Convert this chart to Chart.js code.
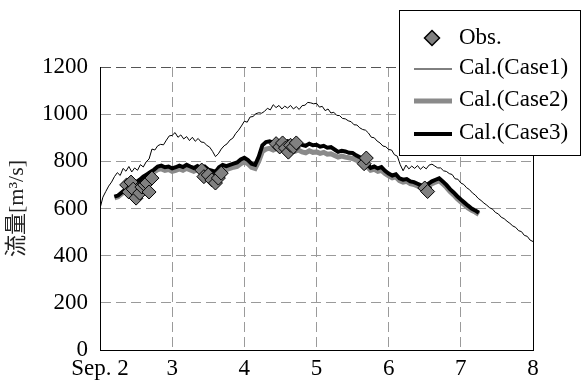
<!DOCTYPE html>
<html>
<head>
<meta charset="utf-8">
<script src="https://cdn.jsdelivr.net/npm/chart.js@4"></script>
<style>
  html, body { margin: 0; padding: 0; background: #fff; }
  #wrap { width: 583px; height: 380px; position: relative; }
</style>
</head>
<body>
<div id="wrap"><canvas id="flowChart"></canvas></div>
<script>
// Calculated discharge, Case1 (every 0.04 day from Sep. 2 00:00)
const case1Start = 2.0;
const case1Step = 0.04;
const case1Values = [
    600, 648, 672, 695, 712,
    735, 752, 740, 770, 758,
    778, 755, 772, 762, 786,
    776, 798, 810, 852, 848,
    866, 872, 870, 890, 908,
    910, 922, 902, 912, 895,
    905, 888, 902, 885, 897,
    882, 880, 868, 860, 842,
    820, 832, 852, 866, 874,
    890, 898, 918, 932, 950,
    970, 966, 988, 990, 1002,
    1006, 1004, 1012, 1025, 1018,
    1040, 1028, 1037, 1022, 1034,
    1026, 1037, 1022, 1032, 1020,
    1036, 1038, 1050, 1048, 1044,
    1046, 1030, 1033, 1015, 1022,
    1005, 1008, 995, 994, 982,
    980, 972, 968, 955, 954,
    942, 935, 932, 920, 902,
    900, 886, 878, 865, 862,
    850, 848, 828, 822, 786,
    760, 784, 768, 780, 770,
    782, 766, 778, 768, 784,
    788, 780, 772, 772, 760,
    757, 748, 744, 726, 724,
    708, 702, 688, 680, 666,
    657, 643, 634, 623, 614,
    603, 597, 583, 577, 563,
    557, 546, 537, 526, 520,
    506, 502, 486, 482, 466,
    460
];

// Case2 and Case3 (every 0.05 day from Sep. 2.20)
const caseStart = 2.2;
const caseStep = 0.05;
const case2Values = [
    645, 650, 662, 675, 685, 698, 705, 715, 728, 738,
    748, 756, 765, 768, 762, 765, 758, 762, 768, 762,
    770, 764, 758, 765, 758, 762, 750, 745, 740, 758,
    768, 765, 770, 775, 778, 790, 798, 790, 775, 770,
    800, 842, 852, 855, 848, 855, 852, 845, 852, 848,
    842, 848, 840, 836, 845, 838, 840, 834, 838, 830,
    832, 825, 818, 822, 818, 815, 812, 805, 800, 790,
    778, 762, 766, 758, 762, 748, 738, 730, 734, 718,
    712, 715, 705, 702, 695, 688, 682, 695, 705, 712,
    718, 705, 690, 672, 658, 642, 628, 615, 602, 592,
    585, 575
];
const case3Values = [
    650, 655, 668, 680, 690, 705, 712, 722, 735, 745,
    755, 765, 778, 782, 775, 778, 770, 775, 782, 776,
    785, 778, 772, 780, 772, 778, 765, 760, 755, 775,
    785, 780, 785, 790, 795, 808, 815, 805, 790, 785,
    820, 868, 882, 885, 878, 885, 882, 875, 885, 880,
    872, 880, 870, 866, 875, 868, 870, 862, 866, 858,
    860, 850, 840, 845, 842, 836, 835, 825, 818, 805,
    790, 772, 778, 770, 776, 760, 748, 740, 745, 728,
    722, 725, 715, 712, 705, 698, 690, 705, 715, 722,
    728, 715, 700, 682, 668, 652, 638, 625, 612, 600,
    592, 582
];

// Observed discharge
const obsDays = [
    2.37, 2.40, 2.43, 2.46, 2.50, 2.55, 2.58, 2.62, 2.65, 2.68, 2.72,
    3.41, 3.44, 3.50, 3.55, 3.60, 3.64, 3.68,
    4.44, 4.49, 4.53, 4.57, 4.61, 4.64, 4.68, 4.72,
    5.66, 5.69,
    6.50, 6.54
];
const obsValues = [
    700, 670, 712, 682, 644, 665, 691, 700, 708, 670, 729,
    763, 735, 742, 721, 708, 729, 750,
    875, 861, 878, 856, 839, 868, 861, 878,
    790, 814,
    687, 672
];

const xTicks = [2, 3, 4, 5, 6, 7, 8];
const xTickLabels = ["Sep. 2", "3", "4", "5", "6", "7", "8"];

const serif = "'Liberation Serif', serif";

function series(start, step, values) {
    return values.map(function(v, i) {
        return { x: Math.round((start + i * step) * 1000) / 1000, y: v };
    });
}

const obsData = obsDays.map(function(d, i) { return { x: d, y: obsValues[i] }; });

Chart.defaults.font.family = serif;
Chart.defaults.font.size = 23;
Chart.defaults.color = "#000";

const datasets = [
    {
        label: "Obs.",
        data: obsData,
        showLine: false,
        pointStyle: "rectRot",
        pointRadius: 7,
        pointBackgroundColor: "#808080",
        pointBorderColor: "#000",
        pointBorderWidth: 1
    },
    {
        label: "Cal.(Case3)",
        data: series(caseStart, caseStep, case3Values),
        borderColor: "#000",
        borderWidth: 4,
        pointRadius: 0
    },
    {
        label: "Cal.(Case2)",
        data: series(caseStart, caseStep, case2Values),
        borderColor: "#8a8a8a",
        borderWidth: 5,
        pointRadius: 0
    },
    {
        label: "Cal.(Case1)",
        data: series(case1Start, case1Step, case1Values),
        borderColor: "#000",
        borderWidth: 1,
        pointRadius: 0
    }
];

// Frame line on the right side plus the boxed legend
const framePlugin = {
    id: "frameAndLegend",
    afterDraw: function(chart) {
        const ctx = chart.ctx;
        const area = chart.chartArea;
        ctx.save();
        ctx.strokeStyle = "#000";
        ctx.lineWidth = 1;
        ctx.beginPath();
        ctx.moveTo(Math.round(area.right) + 0.5, area.top);
        ctx.lineTo(Math.round(area.right) + 0.5, area.bottom);
        ctx.stroke();

        // legend box
        const bx = 399.5, by = 10.5, bw = 181, bh = 145;
        ctx.fillStyle = "#fff";
        ctx.fillRect(bx, by, bw, bh);
        ctx.strokeRect(bx, by, bw, bh);

        const order = [0, 3, 2, 1];
        const rowsY = [38, 68, 100, 133];
        ctx.font = "23px " + serif;
        ctx.textAlign = "left";
        ctx.textBaseline = "middle";
        order.forEach(function(di, r) {
            const ds = chart.data.datasets[di];
            const y = rowsY[r];
            if (ds.showLine === false) {
                ctx.beginPath();
                ctx.moveTo(432, y - 7.5);
                ctx.lineTo(439.5, y);
                ctx.lineTo(432, y + 7.5);
                ctx.lineTo(424.5, y);
                ctx.closePath();
                ctx.fillStyle = ds.pointBackgroundColor;
                ctx.fill();
                ctx.strokeStyle = ds.pointBorderColor;
                ctx.lineWidth = 1.5;
                ctx.stroke();
            } else {
                ctx.beginPath();
                ctx.strokeStyle = ds.borderColor;
                ctx.lineWidth = ds.borderWidth;
                ctx.moveTo(414, y + 1);
                ctx.lineTo(452, y + 1);
                ctx.stroke();
            }
            ctx.fillStyle = "#000";
            ctx.fillText(ds.label, 459, y);
        });
        ctx.restore();
    }
};

const ctx = document.getElementById("flowChart").getContext("2d");

new Chart(ctx, {
    type: "line",
    data: { datasets: datasets },
    options: {
        responsive: true,
        maintainAspectRatio: false,
        animation: false,
        layout: {
            padding: { top: 67, right: 50, left: 0, bottom: 0 }
        },
        elements: {
            line: { tension: 0 }
        },
        scales: {
            x: {
                type: "linear",
                min: 2,
                max: 8,
                afterFit: function(scale) { scale.height = 30; },
                afterBuildTicks: function(scale) {
                    scale.ticks = xTicks.map(function(v) { return { value: v }; });
                },
                ticks: {
                    padding: 5,
                    maxRotation: 0,
                    callback: function(value) {
                        const i = xTicks.indexOf(value);
                        return i >= 0 ? xTickLabels[i] : "";
                    }
                },
                grid: {
                    color: "#9a9a9a",
                    drawTicks: false
                },
                border: {
                    color: "#000",
                    width: 1,
                    dash: [10, 5]
                }
            },
            y: {
                min: 0,
                max: 1200,
                afterFit: function(scale) { scale.width = 100; },
                ticks: {
                    stepSize: 200,
                    padding: 12,
                    callback: function(value) { return String(value); }
                },
                grid: {
                    color: function(c) {
                        return c.tick && c.tick.value === 1200 ? "#555" : "#9a9a9a";
                    },
                    drawTicks: false
                },
                border: {
                    color: "#000",
                    width: 1,
                    dash: [10, 5]
                },
                title: {
                    display: true,
                    text: "流量[m³/s]",
                    font: { family: "'Liberation Serif', 'Noto Sans CJK JP', serif", size: 22 },
                    color: "#222",
                    padding: { top: 4, bottom: 0 }
                }
            }
        },
        plugins: {
            legend: { display: false },
            tooltip: { enabled: false }
        }
    },
    plugins: [framePlugin]
});
</script>
</body>
</html>
